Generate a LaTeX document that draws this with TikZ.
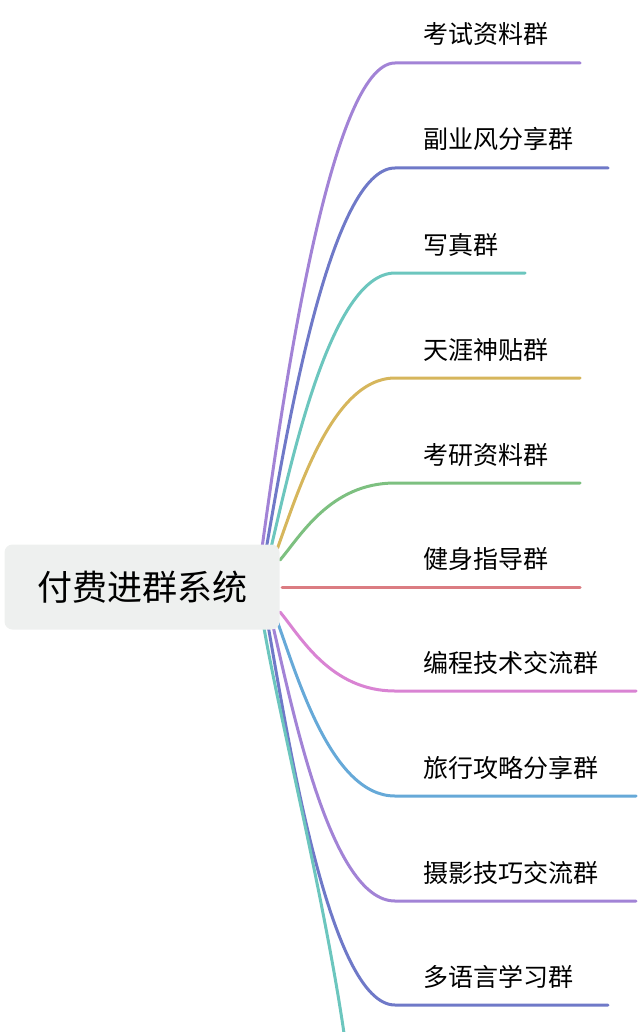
\documentclass[tikz,border=0pt]{standalone}
\usepackage{fontspec}
\usetikzlibrary{calc}
\newfontfamily\cjk{Noto Sans CJK SC}
\definecolor{cA}{HTML}{A283D6}
\definecolor{cB}{HTML}{6F79C8}
\definecolor{cC}{HTML}{6CC6BE}
\definecolor{cD}{HTML}{D6B65C}
\definecolor{cE}{HTML}{7DC080}
\definecolor{cF}{HTML}{DB7C82}
\definecolor{cG}{HTML}{D983D3}
\definecolor{cH}{HTML}{66A9D8}
\definecolor{rootbg}{HTML}{EEF0EF}
\tikzset{br/.style={line width=3pt,line cap=round},
 lab/.style={anchor=base west,font=\cjk\fontsize{25}{30}\selectfont,inner sep=0}}
\begin{document}
\begin{tikzpicture}[x=1pt,y=-1pt]
\useasboundingbox (0,0) rectangle (638,1032);
\foreach \sx/\sy/\ey/\ex/\c/\t [count=\i] in {
262/548/63/580/cA/考试资料群,
266/550/168/608/cB/副业风分享群,
270/552/273/525/cC/写真群,
275/555/378/580/cD/天涯神贴群,
280/560/483/580/cE/考研资料群,
282/587/587/580/cF/健身指导群,
280/612/691/636/cG/编程技术交流群,
276/618/796/636/cH/旅行攻略分享群,
272/622/901/636/cA/摄影技巧交流群,
268/625/1005/608/cB/多语言学习群}{
 \coordinate (s\i) at (\sx,\sy);
 \coordinate (m\i) at (395,\ey);
 \coordinate (e\i) at (\ex,\ey);
 \draw[br,\c] (s\i) .. controls ($(s\i)!0.3!(\sx,\ey)+(20,0)$) and (330,\ey) .. (m\i) -- (e\i);
 \node[lab] (l\i) at (423,\ey-19) {\t};
}
\coordinate (s11) at (264,628);
\coordinate (e11) at (345,1040);
\draw[br,cC] (s11) .. controls (280,720) and (325,900) .. (e11);
\node[fill=rootbg,rounded corners=8pt,minimum width=275pt,minimum height=85pt,font=\cjk\fontsize{35}{40}\selectfont] (root) at (142,587) {付费进群系统};
\end{tikzpicture}
\end{document}
